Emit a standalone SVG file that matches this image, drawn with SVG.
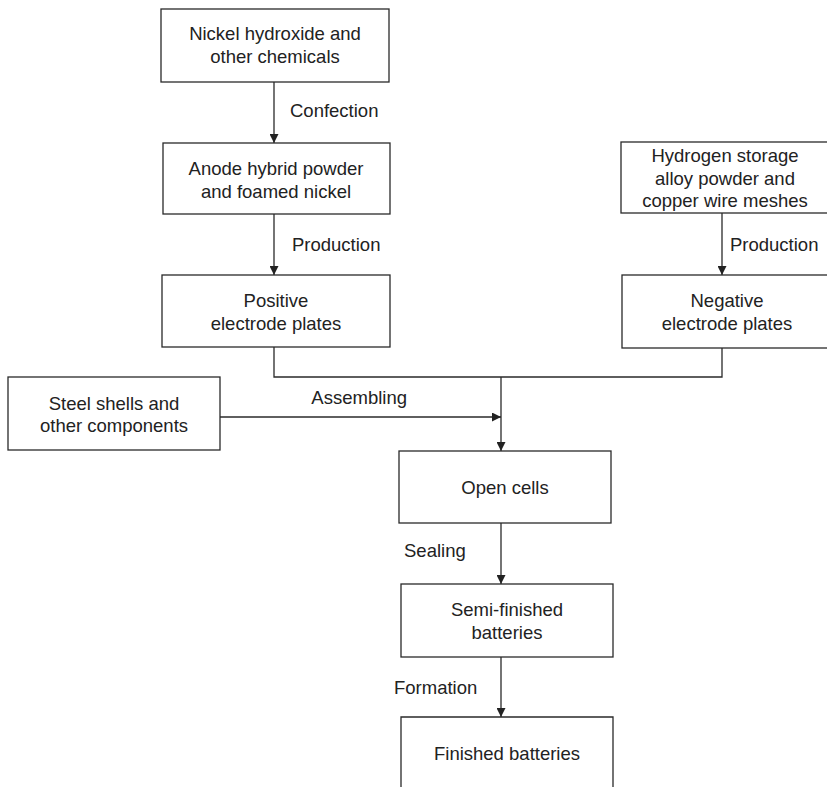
<svg xmlns="http://www.w3.org/2000/svg" width="827" height="787" viewBox="0 0 827 787">
<defs>
<style>
.box{fill:#fff;stroke:#2a2a2a;stroke-width:1.3}
.t{font-family:"Liberation Sans",Arial,sans-serif;font-size:18.5px;fill:#222;text-anchor:middle}
.l{font-family:"Liberation Sans",Arial,sans-serif;font-size:18.5px;fill:#222}
.c{fill:none;stroke:#2a2a2a;stroke-width:1.3}
</style>
<marker id="ah" viewBox="0 0 10 10" refX="10" refY="5" markerWidth="9" markerHeight="9" markerUnits="userSpaceOnUse" orient="auto">
<path d="M0,0 L10,5 L0,10 Z" fill="#222"/>
</marker>
</defs>
<rect width="827" height="787" fill="#fff"/>
<g id="connectors">
<line class="c" x1="274" y1="82" x2="274" y2="143" marker-end="url(#ah)"/>
<line class="c" x1="274" y1="214" x2="274" y2="275" marker-end="url(#ah)"/>
<line class="c" x1="722" y1="213" x2="722" y2="275" marker-end="url(#ah)"/>
<polyline class="c" points="274,347 274,377 722,377 722,348"/>
<line class="c" x1="501" y1="377" x2="501" y2="451" marker-end="url(#ah)"/>
<line class="c" x1="220" y1="417" x2="501" y2="417" marker-end="url(#ah)"/>
<line class="c" x1="501" y1="523" x2="501" y2="584" marker-end="url(#ah)"/>
<line class="c" x1="501" y1="657" x2="501" y2="717" marker-end="url(#ah)"/>
<text class="l" x="290" y="117">Confection</text>
<text class="l" x="292" y="251">Production</text>
<text class="l" x="730" y="251">Production</text>
<text class="l" x="407" y="404" text-anchor="end">Assembling</text>
<text class="l" x="404" y="557">Sealing</text>
<text class="l" x="394" y="694">Formation</text>
</g>
<g id="nickel">
<rect class="box" x="161" y="9" width="228" height="73"/>
<text class="t" x="275" y="40">Nickel hydroxide and</text>
<text class="t" x="275" y="63">other chemicals</text>
</g>
<g id="anode">
<rect class="box" x="163" y="143" width="227" height="71"/>
<text class="t" x="276" y="175">Anode hybrid powder</text>
<text class="t" x="276" y="198">and foamed nickel</text>
</g>
<g id="positive">
<rect class="box" x="162" y="275" width="228" height="72"/>
<text class="t" x="276" y="307">Positive</text>
<text class="t" x="276" y="330">electrode plates</text>
</g>
<g id="hydrogen">
<rect class="box" x="621" y="142" width="210" height="71"/>
<text class="t" x="725" y="162">Hydrogen storage</text>
<text class="t" x="725" y="184.5">alloy powder and</text>
<text class="t" x="725" y="207">copper wire meshes</text>
</g>
<g id="negative">
<rect class="box" x="622" y="275" width="210" height="73"/>
<text class="t" x="727" y="307">Negative</text>
<text class="t" x="727" y="330">electrode plates</text>
</g>
<g id="steel">
<rect class="box" x="8" y="377" width="212" height="73"/>
<text class="t" x="114" y="410">Steel shells and</text>
<text class="t" x="114" y="432">other components</text>
</g>
<g id="open-cells">
<rect class="box" x="399" y="451" width="212" height="72"/>
<text class="t" x="505" y="494">Open cells</text>
</g>
<g id="semi-finished">
<rect class="box" x="401" y="584" width="212" height="73"/>
<text class="t" x="507" y="616">Semi-finished</text>
<text class="t" x="507" y="639">batteries</text>
</g>
<g id="finished">
<path class="box" d="M401,795 V717 H613 V795"/>
<text class="t" x="507" y="760">Finished batteries</text>
</g>
</svg>
